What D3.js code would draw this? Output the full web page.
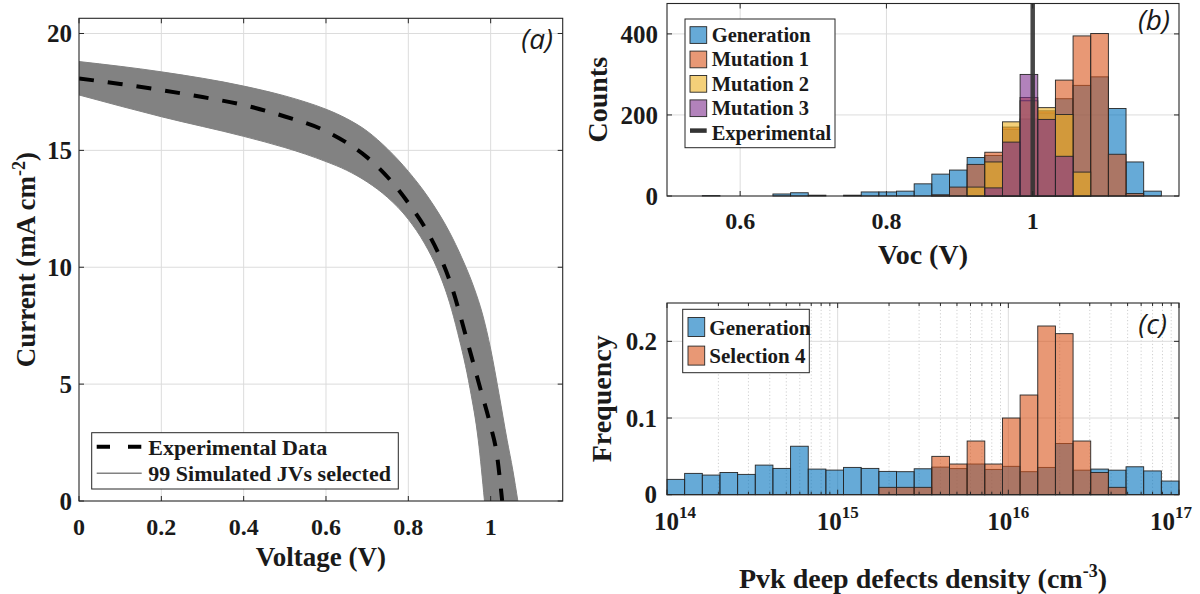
<!DOCTYPE html>
<html><head><meta charset="utf-8">
<script src="https://cdn.jsdelivr.net/npm/d3@7"></script>
<style>
html,body{margin:0;padding:0;background:#fff;}
svg{display:block;}
text{font-family:"Liberation Serif","Times New Roman",serif;font-weight:bold;fill:#1a1a1a;}
.plab{font-family:"Open Sans","Liberation Sans",sans-serif;font-weight:normal;font-style:italic;}
</style>
</head><body>
<svg id="chart" width="1200" height="594"></svg>
<script>
// ===== Panel (a): J-V curves =====
const expV = [0,0.1,0.2,0.3,0.4,0.5,0.6,0.65,0.7,0.75,0.8,0.85,0.9,0.95,0.975,1.0,1.015,1.028];
const expJ = [18.08,17.84,17.58,17.28,16.94,16.45,15.82,15.33,14.7,13.85,12.75,11.4,9.45,6.4,4.8,3.2,2.0,0];
const simUpperV = [0,0.2,0.4,0.5,0.55,0.6,0.65,0.7,0.75,0.8,0.85,0.9,0.93,0.96,0.98,1.0,1.02,1.04,1.054,1.066];
const simUpperJ = [18.8,18.36,17.75,17.33,17.07,16.76,16.36,15.82,15.05,14.1,12.95,11.5,10.4,9.1,8.0,6.5,4.6,2.6,1.3,0];
const simLowerV = [0,0.2,0.4,0.5,0.55,0.6,0.65,0.7,0.75,0.8,0.84,0.87,0.9,0.92,0.95,0.97,0.985];
const simLowerJ = [17.37,16.44,15.6,15.12,14.84,14.52,14.15,13.65,12.98,12.05,11.0,9.95,8.5,7.2,4.8,2.6,0];
const aXTicks = [0,0.2,0.4,0.6,0.8,1];
const aXTickLabels = ["0","0.2","0.4","0.6","0.8","1"];
const aYTicks = [0,5,10,15,20];
const aLegend = ["Experimental Data","99 Simulated JVs selected"];

// ===== Panel (b): Voc histogram (29 bins, 0.5–1.2 V) =====
const vocRange = [0.5,1.2];
const vocBinCount = 29;
const vocGeneration = [0,0,1,0,0,0,5,8,2,0,2,10,10,12,30,54,64,95,100,165,190,205,240,273,294,216,84,12,0];
const vocMutation1  = [0,0,0,0,0,0,0,0,0,0,0,0,0,0,0,3,22,78,108,170,243,210,286,395,401,103,6,0,0];
const vocMutation2  = [0,0,0,0,0,0,0,0,0,0,0,0,0,0,0,0,0,22,84,183,235,218,201,59,0,0,0,0,0];
const vocMutation3  = [0,0,0,0,0,0,0,0,0,0,0,0,0,0,0,0,0,0,20,133,300,189,98,0,0,0,0,0,0];
const vocExperimental = 1.0;
const bXTicks = [0.6,0.8,1.0];
const bXTickLabels = ["0.6","0.8","1"];
const bYTicks = [0,200,400];
const bLegend = ["Generation","Mutation 1","Mutation 2","Mutation 3","Experimental"];

// ===== Panel (c): defect density histogram (29 log bins, 1e14–1e17) =====
const defRangeLog = [14,17];
const defBinCount = 29;
const defGeneration = [0.020,0.0278,0.0256,0.029,0.0265,0.0386,0.0343,0.0632,0.0334,0.0321,0.0356,0.0343,0.0304,0.030,0.0338,0.036,0.034,0.040,0.033,0.037,0.030,0.0356,0.0667,0.032,0.0334,0.032,0.0364,0.031,0.0178];
const defSelection4 = [0,0,0,0,0,0,0,0,0,0,0,0,0.0096,0.0096,0.0096,0.050,0.040,0.070,0.040,0.100,0.130,0.220,0.210,0.070,0.029,0.0096,0,0,0];
const cXTickExps = [14,15,16,17];
const cYTicks = [0,0.1,0.2];
const cYTickLabels = ["0","0.1","0.2"];
const cLegend = ["Generation","Selection 4"];

// colours (MATLAB defaults)
const C_BLUE="#0072BD", C_ORANGE="#D95319", C_YELLOW="#EDB120", C_PURPLE="#7E2F8E";
const AXC="#262626", GRID="#dcdcdc", BAR_ALPHA=0.6;

const svg = d3.select("#chart");

function box(g, L, R, T, B){
  g.append("rect").attr("x",L).attr("y",T).attr("width",R-L).attr("height",B-T)
    .attr("fill","none").attr("stroke",AXC).attr("stroke-width",1.1);
}
function ticksX(g, xs, T, B, len){
  xs.forEach(x=>{
    g.append("line").attr("x1",x).attr("x2",x).attr("y1",B).attr("y2",B-len).attr("stroke",AXC).attr("stroke-width",1);
    g.append("line").attr("x1",x).attr("x2",x).attr("y1",T).attr("y2",T+len).attr("stroke",AXC).attr("stroke-width",1);
  });
}
function ticksY(g, ys, L, R, len){
  ys.forEach(y=>{
    g.append("line").attr("y1",y).attr("y2",y).attr("x1",L).attr("x2",L+len).attr("stroke",AXC).attr("stroke-width",1);
    g.append("line").attr("y1",y).attr("y2",y).attr("x1",R).attr("x2",R-len).attr("stroke",AXC).attr("stroke-width",1);
  });
}

// ---------------- Panel (a) ----------------
{
  const L=79,R=562.7,T=18.3,B=501;
  const x = d3.scaleLinear().domain([0,1.175]).range([L,R]);
  const y = d3.scaleLinear().domain([0,20.65]).range([B,T]);
  const g = svg.append("g");
  aXTicks.forEach(t=>{ if(t>0) g.append("line").attr("x1",x(t)).attr("x2",x(t)).attr("y1",T).attr("y2",B).attr("stroke",GRID).attr("stroke-width",1);});
  aYTicks.forEach(t=>{ if(t>0) g.append("line").attr("y1",y(t)).attr("y2",y(t)).attr("x1",L).attr("x2",R).attr("stroke",GRID).attr("stroke-width",1);});
  g.append("clipPath").attr("id","clipA").append("rect").attr("x",L).attr("y",T).attr("width",R-L).attr("height",B-T);
  const lg = d3.line().curve(d3.curveMonotoneX);
  const up = simUpperV.map((v,i)=>[x(v),y(simUpperJ[i])]);
  const lo = simLowerV.map((v,i)=>[x(v),y(simLowerJ[i])]).reverse();
  const bandD = lg(up) + "L" + lg(lo).substring(1) + "Z";
  const cg = g.append("g").attr("clip-path","url(#clipA)");
  cg.append("path").attr("d",bandD).attr("fill","#828282").attr("stroke","#828282").attr("stroke-width",1);
  const ln = d3.line().x((d,i)=>x(expV[i])).y((d,i)=>y(expJ[i])).curve(d3.curveMonotoneX);
  cg.append("path").attr("d",ln(expV)).attr("fill","none").attr("stroke","#000").attr("stroke-width",4)
    .attr("stroke-dasharray","15 14");
  box(g,L,R,T,B);
  ticksX(g, aXTicks.map(x), T, B, 5);
  ticksY(g, aYTicks.map(y), L, R, 5);
  aXTicks.forEach((t,i)=> g.append("text").attr("x",x(t)).attr("y",535).attr("text-anchor","middle").attr("font-size",24).text(aXTickLabels[i]));
  aYTicks.forEach(t=> g.append("text").attr("x",72).attr("y",y(t)).attr("dy","0.35em").attr("text-anchor","end").attr("font-size",25).text(t));
  g.append("text").attr("x",(L+R)/2).attr("y",566).attr("text-anchor","middle").attr("font-size",27).text("Voltage (V)");
  const yt = g.append("text").attr("transform",`translate(35,${(T+B)/2}) rotate(-90)`).attr("text-anchor","middle").attr("font-size",27);
  yt.append("tspan").text("Current (mA cm");
  yt.append("tspan").attr("dy",-10).attr("font-size",18).text("-2");
  yt.append("tspan").attr("dy",10).text(")");
  // legend
  const lgG = g.append("g");
  lgG.append("rect").attr("x",91.7).attr("y",432.7).attr("width",306.6).attr("height",56.3).attr("fill","#fff").attr("stroke",AXC).attr("stroke-width",1);
  lgG.append("line").attr("x1",96.7).attr("x2",141.7).attr("y1",446.7).attr("y2",446.7).attr("stroke","#000").attr("stroke-width",4).attr("stroke-dasharray","13.3 18");
  lgG.append("line").attr("x1",96.7).attr("x2",141.7).attr("y1",473.3).attr("y2",473.3).attr("stroke","#828282").attr("stroke-width",1.5);
  lgG.append("text").attr("x",148.3).attr("y",454.5).attr("font-size",22).text(aLegend[0]);
  lgG.append("text").attr("x",148.3).attr("y",481).attr("font-size",22).text(aLegend[1]);
  g.append("text").attr("class","plab").attr("x",553).attr("y",49).attr("text-anchor","end").attr("font-size",28).text("(a)");
}

// ---------------- Panel (b) ----------------
{
  const L=667,R=1179,T=3.5,B=196;
  const x = d3.scaleLinear().domain(vocRange).range([L,R]);
  const y = d3.scaleLinear().domain([0,475]).range([B,T]);
  const g = svg.append("g");
  bXTicks.forEach(t=> g.append("line").attr("x1",x(t)).attr("x2",x(t)).attr("y1",T).attr("y2",B).attr("stroke",GRID));
  bYTicks.forEach(t=>{ if(t>0) g.append("line").attr("y1",y(t)).attr("y2",y(t)).attr("x1",L).attr("x2",R).attr("stroke",GRID);});
  const w = (vocRange[1]-vocRange[0])/vocBinCount;
  const series = [[vocGeneration,C_BLUE],[vocMutation1,C_ORANGE],[vocMutation2,C_YELLOW],[vocMutation3,C_PURPLE]];
  series.forEach(([vals,col])=>{
    g.append("g").selectAll("rect").data(vals.map((v,i)=>({v,i})).filter(d=>d.v>0)).join("rect")
      .attr("x",d=>x(vocRange[0]+d.i*w)).attr("width",d=>x(vocRange[0]+(d.i+1)*w)-x(vocRange[0]+d.i*w))
      .attr("y",d=>y(d.v)).attr("height",d=>B-y(d.v))
      .attr("fill",col).attr("fill-opacity",BAR_ALPHA).attr("stroke",AXC).attr("stroke-width",0.9);
  });
  g.append("line").attr("x1",x(vocExperimental)).attr("x2",x(vocExperimental)).attr("y1",T).attr("y2",B)
    .attr("stroke","#333").attr("stroke-opacity",0.9).attr("stroke-width",4.5);
  box(g,L,R,T,B);
  ticksX(g, bXTicks.map(x), T, B, 5);
  ticksY(g, bYTicks.map(y), L, R, 5);
  bXTicks.forEach((t,i)=> g.append("text").attr("x",x(t)).attr("y",229).attr("text-anchor","middle").attr("font-size",24).text(bXTickLabels[i]));
  bYTicks.forEach(t=> g.append("text").attr("x",658).attr("y",y(t)).attr("dy","0.35em").attr("text-anchor","end").attr("font-size",25).text(t));
  g.append("text").attr("x",(L+R)/2).attr("y",264).attr("text-anchor","middle").attr("font-size",28).text("Voc (V)");
  g.append("text").attr("transform",`translate(607,${(T+B)/2}) rotate(-90)`).attr("text-anchor","middle").attr("font-size",28).text("Counts");
  // legend
  const lgG = g.append("g");
  lgG.append("rect").attr("x",685).attr("y",19).attr("width",150).attr("height",128.7).attr("fill","#fff").attr("stroke",AXC).attr("stroke-width",1);
  const cols=[C_BLUE,C_ORANGE,C_YELLOW,C_PURPLE];
  bLegend.forEach((name,k)=>{
    const cy = 35 + k*24.4;
    if(k<4){
      lgG.append("rect").attr("x",690).attr("y",cy-8.3).attr("width",16.7).attr("height",16.7)
        .attr("fill",cols[k]).attr("fill-opacity",BAR_ALPHA).attr("stroke",AXC).attr("stroke-width",0.9);
    } else {
      lgG.append("line").attr("x1",690).attr("x2",706.7).attr("y1",cy-2).attr("y2",cy-2).attr("stroke","#333").attr("stroke-width",4.5);
    }
    lgG.append("text").attr("x",711.7).attr("y",cy+7).attr("font-size",20.5).text(name);
  });
  g.append("text").attr("class","plab").attr("x",1170).attr("y",30).attr("text-anchor","end").attr("font-size",28).text("(b)");
}

// ---------------- Panel (c) ----------------
{
  const L=667,R=1179,T=303,B=494.7;
  const x = d3.scaleLog().domain([Math.pow(10,defRangeLog[0]),Math.pow(10,defRangeLog[1])]).range([L,R]);
  const y = d3.scaleLinear().domain([0,0.25]).range([B,T]);
  const g = svg.append("g");
  const minor = [];
  for(let e=defRangeLog[0]; e<defRangeLog[1]; e++) for(let k=2;k<=9;k++) minor.push(k*Math.pow(10,e));
  minor.forEach(t=> g.append("line").attr("x1",x(t)).attr("x2",x(t)).attr("y1",T).attr("y2",B).attr("stroke","#cfcfcf").attr("stroke-dasharray","1.2 2.2"));
  cXTickExps.slice(1,-1).forEach(e=> g.append("line").attr("x1",x(Math.pow(10,e))).attr("x2",x(Math.pow(10,e))).attr("y1",T).attr("y2",B).attr("stroke",GRID));
  cYTicks.forEach(t=>{ if(t>0) g.append("line").attr("y1",y(t)).attr("y2",y(t)).attr("x1",L).attr("x2",R).attr("stroke",GRID);});
  const w = (defRangeLog[1]-defRangeLog[0])/defBinCount;
  const series = [[defGeneration,C_BLUE],[defSelection4,C_ORANGE]];
  series.forEach(([vals,col])=>{
    g.append("g").selectAll("rect").data(vals.map((v,i)=>({v,i})).filter(d=>d.v>0)).join("rect")
      .attr("x",d=>x(Math.pow(10,defRangeLog[0]+d.i*w)))
      .attr("width",d=>x(Math.pow(10,defRangeLog[0]+(d.i+1)*w))-x(Math.pow(10,defRangeLog[0]+d.i*w)))
      .attr("y",d=>y(d.v)).attr("height",d=>B-y(d.v))
      .attr("fill",col).attr("fill-opacity",BAR_ALPHA).attr("stroke",AXC).attr("stroke-width",0.9);
  });
  box(g,L,R,T,B);
  ticksX(g, cXTickExps.map(e=>x(Math.pow(10,e))), T, B, 5);
  ticksX(g, minor.map(x), T, B, 3);
  ticksY(g, cYTicks.map(y), L, R, 5);
  cXTickExps.forEach((e,i)=>{
    let cx = x(Math.pow(10,e));
    if(i===0) cx += 8; if(i===cXTickExps.length-1) cx -= 8;
    const t = g.append("text").attr("x",cx).attr("y",530).attr("text-anchor","middle").attr("font-size",25);
    t.append("tspan").text("10");
    t.append("tspan").attr("dy",-12).attr("font-size",17).text(e);
  });
  cYTicks.forEach((t,i)=> g.append("text").attr("x",657).attr("y",y(t)).attr("dy","0.35em").attr("text-anchor","end").attr("font-size",25).text(cYTickLabels[i]));
  const xt = g.append("text").attr("x",(L+R)/2).attr("y",588).attr("text-anchor","middle").attr("font-size",28);
  xt.append("tspan").text("Pvk deep defects density (cm");
  xt.append("tspan").attr("dy",-11).attr("font-size",18).text("-3");
  xt.append("tspan").attr("dy",11).text(")");
  g.append("text").attr("transform",`translate(611,${(T+B)/2}) rotate(-90)`).attr("text-anchor","middle").attr("font-size",28).text("Frequency");
  const lgG = g.append("g");
  lgG.append("rect").attr("x",682.7).attr("y",309.3).attr("width",126.6).attr("height",63.4).attr("fill","#fff").attr("stroke",AXC).attr("stroke-width",1);
  const cols=[C_BLUE,C_ORANGE];
  cLegend.forEach((name,k)=>{
    const cy = 327 + k*28.6;
    lgG.append("rect").attr("x",688).attr("y",cy-9.5).attr("width",16.7).attr("height",19)
      .attr("fill",cols[k]).attr("fill-opacity",BAR_ALPHA).attr("stroke",AXC).attr("stroke-width",0.9);
    lgG.append("text").attr("x",709.3).attr("y",cy+7.5).attr("font-size",21).text(name);
  });
  g.append("text").attr("class","plab").attr("x",1167).attr("y",334).attr("text-anchor","end").attr("font-size",28).text("(c)");
}
</script>
</body></html>
